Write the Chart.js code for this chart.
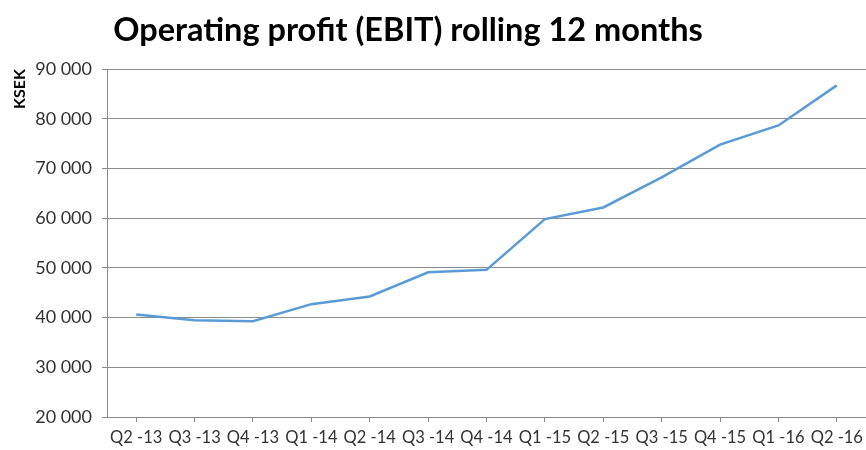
<!DOCTYPE html>
<html>
<head>
<meta charset="utf-8">
<script src="https://cdn.jsdelivr.net/npm/chart.js@4.4.0/dist/chart.umd.min.js"></script>
<style>
  html, body { margin: 0; padding: 0; background: #fff; }
  #wrap { width: 866px; height: 450px; }
</style>
</head>
<body>
<div id="wrap"><canvas id="myChart" width="866" height="450"></canvas></div>
<script>
var quarters = ['Q2 -13', 'Q3 -13', 'Q4 -13', 'Q1 -14', 'Q2 -14', 'Q3 -14', 'Q4 -14',
                'Q1 -15', 'Q2 -15', 'Q3 -15', 'Q4 -15', 'Q1 -16', 'Q2 -16'];
var ebit = [40600, 39450, 39250, 42700, 44250, 49100, 49600,
            59800, 62150, 68200, 74800, 78650, 86700];
var yMin = 20000;
var yMax = 90000;
var yStep = 10000;
var chartTitle = 'Operating profit (EBIT) rolling 12 months';
var yTitle = 'KSEK';

// title sits left of centre in the original, so draw it ourselves
var titlePlugin = {
    id: 'leftTitle',
    afterDraw: function (chart) {
        var c = chart.ctx;
        c.save();
        c.font = 'bold 32.5px Lato';
        c.fillStyle = '#000';
        c.textAlign = 'center';
        c.textBaseline = 'alphabetic';
        c.fillText(chartTitle, 408, 41);
        c.restore();
    }
};

var ctx = document.getElementById('myChart').getContext('2d');
var myChart = new Chart(ctx, {
    type: 'line',
    data: {
        labels: quarters,
        datasets: [{
            label: 'EBIT',
            data: ebit,
            borderColor: '#5b9bd5',
            borderWidth: 2.5,
            pointRadius: 0,
            tension: 0,
            fill: false
        }]
    },
    options: {
        responsive: false,
        animation: false,
        layout: {
            padding: { top: 69, right: 0, bottom: 0, left: 0 }
        },
        plugins: {
            legend: { display: false },
            tooltip: { enabled: false }
        },
        scales: {
            x: {
                offset: true,
                grid: {
                    offset: false,
                    drawOnChartArea: false,
                    color: '#888',
                    tickColor: '#888',
                    tickLength: 5
                },
                border: { color: '#888' },
                ticks: {
                    color: '#333',
                    font: { family: 'Lato', size: 16.5 },
                    maxRotation: 0,
                    autoSkip: false,
                    padding: 6
                },
                afterFit: function (scale) {
                    scale.height = 33;
                    scale.paddingRight = 0;
                }
            },
            y: {
                min: yMin,
                max: yMax,
                grid: {
                    color: '#8c8c8c',
                    tickColor: '#888',
                    tickLength: 5
                },
                border: { color: '#888' },
                title: {
                    display: true,
                    text: yTitle,
                    align: 'end',
                    color: '#000',
                    font: { family: 'Lato', size: 16, weight: 'bold' },
                    padding: { top: 10, bottom: 0 }
                },
                ticks: {
                    stepSize: yStep,
                    color: '#333',
                    font: { family: 'Lato', size: 18 },
                    padding: 10,
                    callback: function (v) {
                        return String(v).replace(/\B(?=(\d{3})+(?!\d))/g, ' ');
                    }
                },
                afterFit: function (scale) { scale.width = 107; }
            }
        }
    },
    plugins: [titlePlugin]
});
</script>
</body>
</html>
